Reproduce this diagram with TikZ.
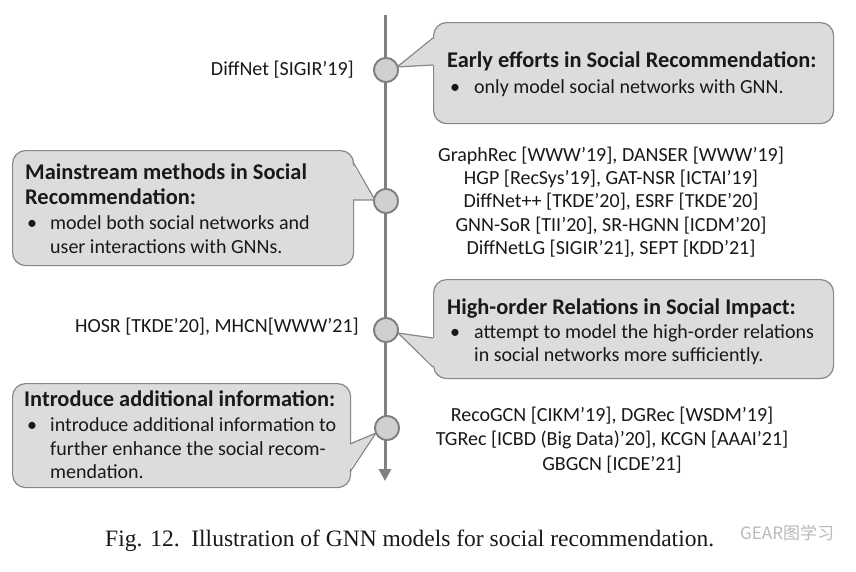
\documentclass[tikz,border=0pt]{standalone}
\usepackage{fontspec}
\setmainfont{Carlito}
\newfontfamily\capfont{Liberation Serif}
\newfontfamily\cjkfont{Noto Sans CJK SC}
\usetikzlibrary{arrows.meta,calc}
\definecolor{boxfill}{RGB}{220,220,220}
\definecolor{boxline}{RGB}{135,135,135}
\definecolor{axiscol}{RGB}{128,128,128}
\definecolor{dotfill}{RGB}{208,208,208}
\definecolor{txt}{RGB}{25,25,25}
\tikzset{
  callout/.style={draw=boxline, line width=1.2pt, fill=boxfill, rounded corners=13pt, inner sep=0pt, anchor=north west},
  pointerfill/.style={fill=boxfill},
  pointerline/.style={draw=boxline, line width=1.2pt, line join=miter},
  dot/.style={circle, draw=axiscol, line width=1.8pt, fill=dotfill, minimum size=24pt, inner sep=0pt},
  ttl/.style={font=\fontsize{22.4}{26}\selectfont\bfseries, anchor=base west, inner sep=0pt, text=txt},
  body/.style={font=\fontsize{20}{24}\selectfont, anchor=base west, inner sep=0pt, text=txt},
  lbl/.style={font=\fontsize{20}{23.3}\selectfont, align=center, inner sep=0pt, text=txt},
}
\begin{document}
\begin{tikzpicture}[x=1pt,y=-1pt]
\useasboundingbox[fill=white] (0,0) rectangle (856,571);

% ---- callout boxes ----
\node[callout, minimum width=400pt, minimum height=101pt] (b1) at (433,22) {};
\node[callout, minimum width=341pt, minimum height=115pt] (b2) at (12,150) {};
\node[callout, minimum width=400pt, minimum height=99pt] (b3) at (433,279) {};
\node[callout, minimum width=338pt, minimum height=104pt] (b4) at (12,383) {};

% ---- timeline ----
\coordinate (top) at (385,15);
\coordinate (bot) at (385,481);
\draw[axiscol, line width=3pt, -{Triangle[length=12pt,width=12pt]}] (top) -- (bot);

% ---- circles ----
\node[dot] (c1) at (386,70) {};
\node[dot] (c2) at (386,201) {};
\node[dot] (c3) at (386,330) {};
\node[dot] (c4) at (387,428) {};

% ---- pointers ----
\coordinate (t1) at (397,67);
\coordinate (p1a) at (433,38);
\coordinate (p1b) at (433,65);
\fill[pointerfill] (t1) -- ($(p1a)+(2,0)$) -- ($(p1b)+(2,0)$) -- cycle;
\draw[pointerline] (p1a) -- (t1) -- (p1b);

\coordinate (t2) at (375,200);
\coordinate (p2a) at (353,162);
\coordinate (p2b) at (353,200);
\fill[pointerfill] (t2) -- ($(p2a)+(-2,0)$) -- ($(p2b)+(-2,0)$) -- cycle;
\draw[pointerline] (p2a) -- (t2) -- (p2b);

\coordinate (t3) at (398,333);
\coordinate (p3a) at (433,338);
\coordinate (p3b) at (433,367);
\fill[pointerfill] (t3) -- ($(p3a)+(2,0)$) -- ($(p3b)+(2,0)$) -- cycle;
\draw[pointerline] (p3a) -- (t3) -- (p3b);

\coordinate (t4) at (376,433);
\coordinate (p4a) at (350,444);
\coordinate (p4b) at (350,472);
\fill[pointerfill] (t4) -- ($(p4a)+(-2,0)$) -- ($(p4b)+(-2,0)$) -- cycle;
\draw[pointerline] (p4a) -- (t4) -- (p4b);

% redraw circles above pointers
\node[dot] at (c1) {};
\node[dot] at (c2) {};
\node[dot] at (c3) {};
\node[dot] at (c4) {};

% ---- box texts ----
\node[ttl] (b1t) at (447,67) {Early efforts in Social Recommendation:};
\node[body] (b1d) at (450,93) {\textbullet};
\node[body] (b1x) at (474,93) {only model social networks with GNN.};

\node[ttl] (b2t1) at (25,179) {Mainstream methods in Social};
\node[ttl] (b2t2) at (25,204) {Recommendation:};
\node[body] (b2d) at (27,229) {\textbullet};
\node[body] (b2x1) at (50,229) {model both social networks and};
\node[body] (b2x2) at (50,253) {user interactions with GNNs.};

\node[ttl] (b3t) at (447,314) {High-order Relations in Social Impact:};
\node[body] (b3d) at (450,338) {\textbullet};
\node[body] (b3x1) at (474,338) {attempt to model the high-order relations};
\node[body] (b3x2) at (474,361) {in social networks more sufficiently.};

\node[ttl] (b4t) at (24,406) {Introduce additional information:};
\node[body] (b4d) at (27,431) {\textbullet};
\node[body] (b4x1) at (50,431) {introduce additional information to};
\node[body] (b4x2) at (50,455) {further enhance the social recom-};
\node[body] (b4x3) at (50,478) {mendation.};

% ---- model labels ----
\node[lbl, anchor=east] (l1) at (354,70) {DiffNet [SIGIR’19]};
\node[lbl] (l2) at (611,202) {GraphRec [WWW’19], DANSER [WWW’19]\\HGP [RecSys’19], GAT-NSR [ICTAI’19]\\DiffNet++ [TKDE’20], ESRF [TKDE’20]\\GNN-SoR [TII’20], SR-HGNN [ICDM’20]\\DiffNetLG [SIGIR’21], SEPT [KDD’21]};
\node[lbl, anchor=east] (l3) at (359,327) {HOSR [TKDE’20], MHCN[WWW’21]};
\node[lbl, font=\fontsize{20}{24.5}\selectfont] (l4) at (612,440) {RecoGCN [CIKM’19], DGRec [WSDM’19]\\TGRec [ICBD (Big Data)’20], KCGN [AAAI’21]\\GBGCN [ICDE’21]};

% ---- caption ----
\node[font=\capfont\fontsize{23.5}{26}\selectfont, anchor=base west, inner sep=0pt, text=txt] (cap) at (105,546) {Fig. 12.\ \ Illustration of GNN models for social recommendation.};
\node[font=\cjkfont\fontsize{17}{20}\selectfont, anchor=west, inner sep=0pt, text=gray!55] (wm) at (740,533) {GEAR图学习};
\end{tikzpicture}
\end{document}
